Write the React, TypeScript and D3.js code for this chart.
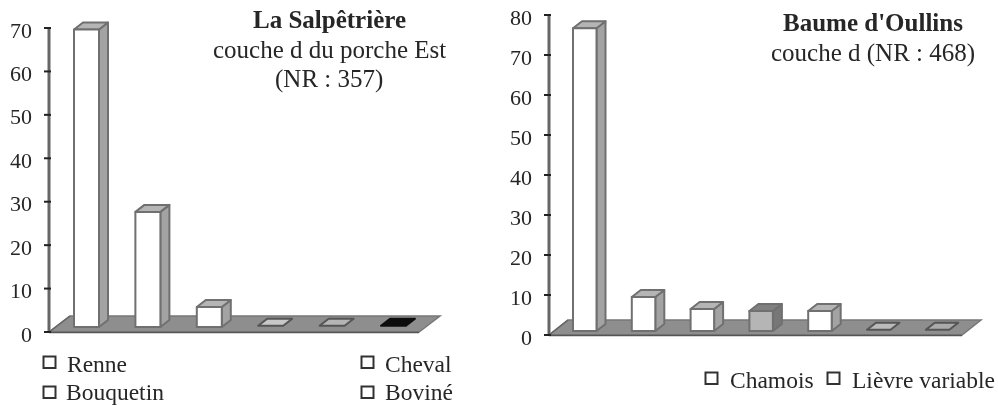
import React from "react";
import * as d3 from "d3";

const leftCategories = ["Renne", "Bouquetin", "Cheval", "Boviné", "a", "b"];
const leftValues = [68.5, 26.5, 4.6, 0.3, 0.3, 0.3];
const leftFills = ["#fff", "#fff", "#fff", "#c8c8c8", "#b5b5b5", "#111"];
const leftTicks = [0, 10, 20, 30, 40, 50, 60, 70];
const rightCategories = ["Chamois", "b", "c", "d", "e", "Lièvre variable", "g"];
const rightValues = [75.7, 8.5, 5.5, 5, 5, 0.3, 0.3];
const rightFills = ["#fff", "#fff", "#fff", "#b5b5b5", "#fff", "#bbb", "#aaa"];
const rightTicks = [0, 10, 20, 30, 40, 50, 60, 70, 80];
const leftLegend = [
  { label: "Renne", bx: 43.5, by: 356.5, tx: 67, ty: 372 },
  { label: "Bouquetin", bx: 43.5, by: 386.5, tx: 66, ty: 400 },
  { label: "Cheval", bx: 361.5, by: 356.5, tx: 385, ty: 372 },
  { label: "Boviné", bx: 361.5, by: 386.5, tx: 385, ty: 400 },
];
const rightLegend = [
  { label: "Chamois", bx: 705.5, by: 372.5, tx: 730, ty: 388 },
  { label: "Lièvre variable", bx: 827.5, by: 372.5, tx: 852, ty: 388 },
];

const FONT = "'Liberation Serif', serif";
const INK = "#262626";
const EDGE = "#707070";

type PanelProps = {
  cats: string[]; vals: number[]; fills: string[]; ticks: number[];
  axisX: number; yTop: number; yZero: number; maxV: number; floorEnd: number;
  xStart: number; dx: number; dy: number; bw: number; step: number; base: number;
};

function Panel({ cats, vals, fills, ticks, axisX, yTop, yZero, maxV, floorEnd, xStart, dx, dy, bw, step, base }: PanelProps) {
  const y = d3.scaleLinear().domain([0, maxV]).range([yZero, yTop]);
  const x = d3.scalePoint().domain(cats).range([xStart, xStart + step * (cats.length - 1)]);
  const line = d3.line();
  return (
    <g>
      <path d={line([[axisX, yZero], [axisX + dx, yZero - dy], [floorEnd + dx, yZero - dy], [floorEnd, yZero]])! + "Z"} fill="#8e8e8e" stroke="#777" strokeWidth={1.5} />
      <line x1={axisX} x2={axisX + dx} y1={yZero} y2={yZero - dy} stroke="#666" strokeWidth={1.5} />
      <line x1={axisX} x2={axisX} y1={yTop} y2={yZero} stroke="#666" strokeWidth={3} />
      <line x1={axisX} x2={floorEnd} y1={yZero + 0.5} y2={yZero + 0.5} stroke="#555" strokeWidth={1.5} />
      {ticks.map((t) => (
        <g key={t}>
          <line x1={axisX - 5} x2={axisX + 2} y1={y(t)} y2={y(t)} stroke="#222" strokeWidth={2} />
          <text x={axisX - 17} y={y(t) + 9.5} textAnchor="end" fontFamily={FONT} fontSize={22} fill={INK}>{t}</text>
        </g>
      ))}
      {vals.map((v, i) => {
        const xl = x(cats[i])!;
        const w = bw;
        const yt = base - (yZero - y(v));
        const flat = v < 1;
        const d = 9;
        const h = 7;
        const front = line([[xl, yt], [xl + w, yt], [xl + w, base], [xl, base]])! + "Z";
        const top = line([[xl, yt], [xl + d, yt - h], [xl + w + d, yt - h], [xl + w, yt]])! + "Z";
        const side = line([[xl + w, yt], [xl + w + d, yt - h], [xl + w + d, base - h], [xl + w, base]])! + "Z";
        return (
          <g key={i} stroke={EDGE} strokeWidth={2} strokeLinejoin="round">
            {flat ? (
              <path d={top} fill={fills[i]} stroke={fills[i] === "#111" ? "#111" : "#555"} />
            ) : (
              <>
                <path d={side} fill={fills[i] === "#fff" ? "#a3a3a3" : "#777"} />
                <path d={top} fill={fills[i] === "#fff" ? "#b5b5b5" : "#808080"} />
                <path d={front} fill={fills[i]} />
              </>
            )}
          </g>
        );
      })}
    </g>
  );
}

function Legend({ items }: { items: typeof leftLegend }) {
  return (
    <g>
      {items.map((l) => (
        <g key={l.label}>
          <rect x={l.bx} y={l.by} width={12} height={11.5} fill="#fff" stroke="#333" strokeWidth={2} />
          <text x={l.tx} y={l.ty} fontFamily={FONT} fontSize={23.5} fill={INK}>{l.label}</text>
        </g>
      ))}
    </g>
  );
}

export default function App() {
  return (
    <svg width={998} height={405} style={{ position: "absolute", left: 0, top: 0, background: "#fff" }}>
      <defs>
        <filter id="soft" x="0" y="0" width="100%" height="100%">
          <feGaussianBlur stdDeviation="0.45" />
        </filter>
      </defs>
      <g filter="url(#soft)">
        <Panel cats={leftCategories} vals={leftValues} fills={leftFills} ticks={leftTicks}
          axisX={49} yTop={28} yZero={332} maxV={70} floorEnd={419} xStart={74} dx={21} dy={16} bw={25} step={61.4} base={327} />
        <Panel cats={rightCategories} vals={rightValues} fills={rightFills} ticks={rightTicks}
          axisX={549} yTop={15} yZero={335} maxV={80} floorEnd={962} xStart={573} dx={19} dy={15} bw={23.5} step={58.8} base={331} />
        <Legend items={leftLegend} />
        <Legend items={rightLegend} />
        <g fontFamily={FONT} fill={INK} fontSize={25}>
          <text x={253} y={28} fontWeight="bold">La Salpêtrière</text>
          <text x={213} y={58}>couche d du porche Est</text>
          <text x={275} y={87}>(NR : 357)</text>
          <text x={783} y={31} fontWeight="bold">Baume d'Oullins</text>
          <text x={771} y={61}>couche d (NR : 468)</text>
        </g>
      </g>
    </svg>
  );
}
